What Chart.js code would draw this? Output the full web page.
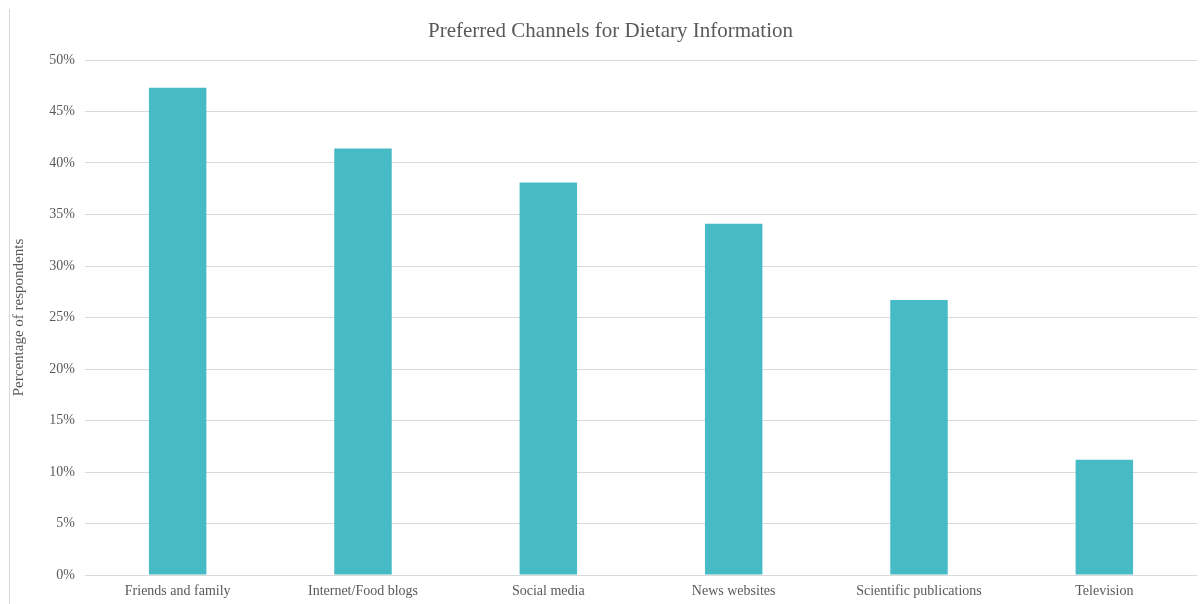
<!DOCTYPE html>
<html>
<head>
<meta charset="utf-8">
<title>Preferred Channels for Dietary Information</title>
<script src="https://cdn.jsdelivr.net/npm/chart.js@4/dist/chart.umd.min.js"></script>
<style>
  html, body { margin: 0; padding: 0; background: #ffffff; }
  #wrap { position: relative; width: 1204px; height: 604px; }
  #frame { position: absolute; left: 9px; top: 9px; width: 1px; height: 595px; background: #d9d9d9; }
  canvas { display: block; }
</style>
</head>
<body>
<div id="wrap">
  <canvas id="chart" width="1204" height="604"></canvas>
  <div id="frame"></div>
</div>
<script>
// Survey results: share of respondents preferring each channel (%)
const channels = [
  'Friends and family',
  'Internet/Food blogs',
  'Social media',
  'News websites',
  'Scientific publications',
  'Television'
];
const shares = [47.3, 41.4, 38.1, 34.1, 26.7, 11.2];
const yTicks = [0, 5, 10, 15, 20, 25, 30, 35, 40, 45, 50];
const chartTitle = 'Preferred Channels for Dietary Information';

const textColor = '#595959';
const gridColor = '#d9d9d9';
const serif = "'Liberation Serif', 'Times New Roman', serif";

// Heading centred over the framed chart panel (which starts at the left rule)
const panelTitle = {
  id: 'panelTitle',
  afterDraw(chart) {
    const ctx = chart.ctx;
    ctx.save();
    ctx.fillStyle = textColor;
    ctx.font = '21px ' + serif;
    ctx.textAlign = 'center';
    ctx.textBaseline = 'middle';
    ctx.fillText(chartTitle, (10 + chart.width + 7) / 2, 31);
    ctx.restore();
  }
};

new Chart(document.getElementById('chart'), {
  type: 'bar',
  data: {
    labels: channels,
    datasets: [{
      label: 'Percentage of respondents',
      data: shares,
      backgroundColor: '#46bbc6',
      borderWidth: 0,
      categoryPercentage: 1.0,
      barPercentage: 0.31
    }]
  },
  options: {
    responsive: false,
    animation: false,
    layout: { padding: { left: 0, right: 7, top: 60, bottom: 0 } },
    plugins: {
      legend: { display: false },
      tooltip: { enabled: false },
      title: { display: false }
    },
    scales: {
      x: {
        grid: { display: false, drawTicks: false },
        border: { display: false },
        ticks: {
          color: textColor,
          font: { family: serif, size: 14 },
          padding: 8,
          maxRotation: 0,
          autoSkip: false
        },
        afterFit: (scale) => { scale.height = 29; }
      },
      y: {
        min: 0,
        max: 50,
        afterBuildTicks: (scale) => { scale.ticks = yTicks.map(v => ({ value: v })); },
        grid: { color: gridColor, lineWidth: 1, drawTicks: false },
        border: { display: false },
        ticks: {
          color: textColor,
          font: { family: serif, size: 14 },
          padding: 10,
          callback: (v) => v + '%'
        },
        title: {
          display: true,
          text: 'Percentage of respondents',
          color: textColor,
          font: { family: serif, size: 15 },
          padding: { top: 10, bottom: 0 }
        },
        afterFit: (scale) => { scale.width = 85; }
      }
    }
  },
  plugins: [panelTitle]
});
</script>
</body>
</html>
